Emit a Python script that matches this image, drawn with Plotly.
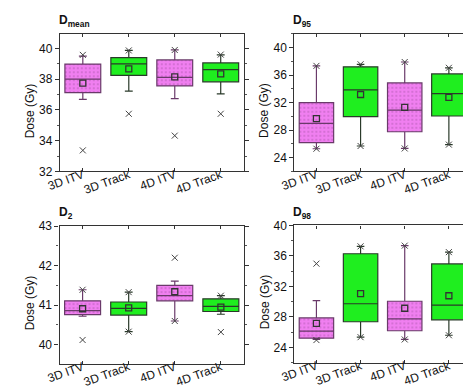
import plotly.graph_objects as go

categories = ["3D ITV", "3D Track", "4D ITV", "4D Track"]

# D_mean
dmean_q1 = [37.13, 38.25, 37.56, 37.83]
dmean_med = [38.0, 39.0, 38.12, 38.62]
dmean_q3 = [38.98, 39.4, 39.25, 39.06]
dmean_lo = [36.69, 37.23, 36.73, 37.04]
dmean_hi = [39.5, 39.87, 39.9, 39.58]
dmean_mean = [37.75, 38.67, 38.15, 38.35]
dmean_min = [33.37, 35.75, 34.33, 35.75]
dmean_max = [39.58, 39.87, 39.9, 39.6]

# D95
d95_q1 = [26.18, 29.96, 27.77, 30.06]
d95_med = [28.98, 33.84, 30.9, 33.32]
d95_q3 = [32.0, 37.2, 34.86, 36.17]
d95_lo = [25.3, 25.7, 25.34, 25.9]
d95_hi = [37.34, 37.57, 37.9, 37.06]
d95_mean = [29.68, 33.18, 31.32, 32.76]
d95_min = [25.3, 25.7, 25.34, 25.9]
d95_max = [37.34, 37.57, 37.9, 37.06]

# D2
d2_q1 = [40.76, 40.75, 41.11, 40.84]
d2_med = [40.86, 40.92, 41.24, 40.97]
d2_q3 = [41.11, 41.08, 41.5, 41.16]
d2_lo = [40.72, 40.33, 40.6, 40.77]
d2_hi = [41.39, 41.33, 41.61, 41.24]
d2_mean = [40.91, 40.93, 41.34, 40.95]
d2_min = [40.12, 40.33, 40.6, 40.32]
d2_max = [41.39, 41.33, 42.2, 41.24]

# D98
d98_q1 = [25.22, 27.37, 26.19, 27.62]
d98_med = [26.15, 29.73, 27.75, 29.56]
d98_q3 = [27.87, 36.29, 30.06, 34.95]
d98_lo = [25.05, 25.35, 25.05, 25.6]
d98_hi = [30.15, 37.26, 37.35, 36.5]
d98_mean = [27.16, 31.07, 29.14, 30.78]
d98_min = [24.97, 25.35, 25.05, 25.6]
d98_max = [34.99, 37.26, 37.35, 36.5]

panel_titles = ["<b>D<sub>mean</sub></b>", "<b>D<sub>95</sub></b>", "<b>D<sub>2</sub></b>", "<b>D<sub>98</sub></b>"]
y_title = "Dose (Gy)"
y_ranges = [[32, 40.92], [22, 42], [39.52, 43], [22, 40]]
y_dticks = [2, 4, 1, 4]
y_minor = [1, 2, 0.5, 2]

panels = [
    (dmean_q1, dmean_med, dmean_q3, dmean_lo, dmean_hi, dmean_mean, dmean_min, dmean_max),
    (d95_q1, d95_med, d95_q3, d95_lo, d95_hi, d95_mean, d95_min, d95_max),
    (d2_q1, d2_med, d2_q3, d2_lo, d2_hi, d2_mean, d2_min, d2_max),
    (d98_q1, d98_med, d98_q3, d98_lo, d98_hi, d98_mean, d98_min, d98_max),
]

W, H = 471, 389
# pixel boxes of plot areas: (x0, x1, ytop, ybottom)
areas = [(39, 228.5, 20, 162.3), (280.7, 462.7, 19.5, 162.3),
         (38.7, 228.7, 219, 361.7), (280.7, 462.7, 218.3, 360.7)]
ytitle_x = [8, 250, 8, 250]

PINK = "#f07ff0"
PINK_LINE = "#6a3a6a"
GREEN = "#1fee1f"
GREEN_LINE = "#2a3a2a"
FONT = "Liberation Sans, Arial, sans-serif"
BOXW = 0.78

fig = go.Figure()
layout = {}
annotations = []
for i, (q1, med, q3, lo, hi, mn, vmin, vmax) in enumerate(panels):
    k = "" if i == 0 else str(i + 1)
    xa, ya = "x" + k, "y" + k
    pink_idx = [0, 2]
    # pink fill with dotted texture (drawn beneath the box outlines)
    fig.add_trace(go.Bar(
        x=[categories[j] for j in pink_idx], base=[q1[j] for j in pink_idx],
        y=[q3[j] - q1[j] for j in pink_idx], width=BOXW,
        marker=dict(color=PINK, line=dict(width=0),
                    pattern=dict(shape=".", fgcolor="#a855a8", bgcolor=PINK,
                                 size=4, solidity=0.1, fillmode="replace")),
        xaxis=xa, yaxis=ya, showlegend=False, hoverinfo="skip"))
    groups = [(pink_idx, "rgba(0,0,0,0)", PINK_LINE), ([1, 3], GREEN, GREEN_LINE)]
    for idx, fc, lc in groups:
        fig.add_trace(go.Box(
            x=[categories[j] for j in idx],
            q1=[q1[j] for j in idx], median=[med[j] for j in idx], q3=[q3[j] for j in idx],
            lowerfence=[lo[j] for j in idx], upperfence=[hi[j] for j in idx],
            fillcolor=fc, line=dict(color=lc, width=1.2), whiskerwidth=0.22, width=BOXW,
            boxpoints=False, xaxis=xa, yaxis=ya, showlegend=False, hoverinfo="skip"))
    fig.add_trace(go.Scatter(
        x=categories, y=mn, mode="markers",
        marker=dict(symbol="square-open", size=6, color="#333", line=dict(width=1.3)),
        xaxis=xa, yaxis=ya, showlegend=False, hoverinfo="skip"))
    fig.add_trace(go.Scatter(
        x=categories + categories, y=vmin + vmax, mode="markers",
        marker=dict(symbol="x-thin-open", size=6, color="#444", line=dict(width=1, color="#444")),
        xaxis=xa, yaxis=ya, showlegend=False, hoverinfo="skip"))

    x0, x1, yt, yb = areas[i]
    layout["xaxis" + k] = dict(
        domain=[x0 / W, x1 / W], anchor=ya, type="category", range=[-0.5, 3.5],
        categoryorder="array", categoryarray=categories,
        showline=True, linecolor="#333", linewidth=1.2, mirror="ticks",
        ticks="inside", ticklen=3, tickcolor="#333", tickangle=-20,
        ticklabelstandoff=-9,
        tickfont=dict(family=FONT, size=12, color="#111"), showgrid=False, zeroline=False)
    layout["yaxis" + k] = dict(
        domain=[1 - yb / H, 1 - yt / H], anchor=xa, range=y_ranges[i], dtick=y_dticks[i],
        showline=True, linecolor="#333", linewidth=1.2, mirror="ticks",
        ticks="outside", ticklen=4, tickcolor="#333",
        minor=dict(dtick=y_minor[i], ticks="outside", ticklen=2, tickcolor="#555"),
        tickfont=dict(family=FONT, size=12, color="#111"), showgrid=False, zeroline=False)
    annotations.append(dict(
        text=panel_titles[i], xref="paper", yref="paper",
        x=(x0 - 3) / W, y=1 - (yt - 3) / H, xanchor="left", yanchor="bottom",
        showarrow=False, font=dict(family=FONT, size=12, color="#111")))
    annotations.append(dict(
        text=y_title, xref="paper", yref="paper", textangle=-90,
        x=ytitle_x[i] / W, y=1 - ((yt + yb) / 2 + 8) / H, xanchor="center", yanchor="middle",
        showarrow=False, font=dict(family=FONT, size=12, color="#111")))

fig.update_layout(
    width=W, height=H, margin=dict(l=0, r=0, t=0, b=0),
    paper_bgcolor="white", plot_bgcolor="white",
    boxmode="overlay", boxgap=0.22, barmode="overlay",
    annotations=annotations, **layout)

fig.write_html("out.html")
